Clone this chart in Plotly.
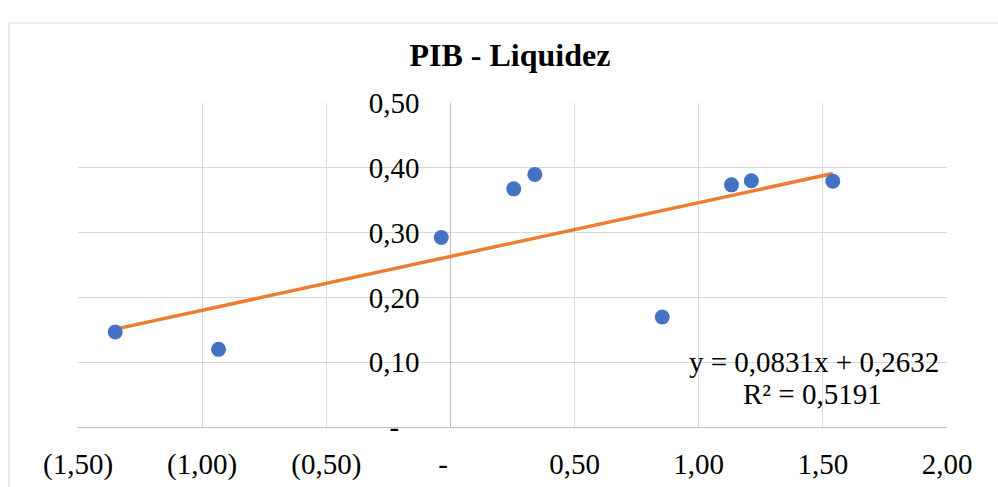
import plotly.graph_objects as go

# Data
x_vals = [-1.350, -0.934, -0.037, 0.255, 0.340, 0.853, 1.132, 1.212, 1.540]
y_vals = [0.1465, 0.1198, 0.2924, 0.3675, 0.3898, 0.1697, 0.3737, 0.3800, 0.3794]

slope = 0.0831
intercept = 0.2632
r2 = 0.5191

x_ticks = [-1.5, -1.0, -0.5, 0.0, 0.5, 1.0, 1.5, 2.0]
x_ticktext = ["(1,50)", "(1,00)", "(0,50)", "-\u2007", "0,50", "1,00", "1,50", "2,00"]
y_ticks = [0.0, 0.1, 0.2, 0.3, 0.4, 0.5]
y_ticktext = ["-\u2007\u2009", "0,10", "0,20", "0,30", "0,40", "0,50"]

FONT = "Liberation Serif, Times New Roman, serif"
GRID = "#d9d9d9"
AXIS = "#bfbfbf"
TS = 29

x_min, x_max = min(x_vals), max(x_vals)
trend_x = [x_min, x_max]
trend_y = [slope * v + intercept for v in trend_x]

fig = go.Figure()
fig.add_trace(go.Scatter(
    x=trend_x, y=trend_y, mode="lines",
    line=dict(color="#ED7D31", width=3.5),
    hoverinfo="skip", showlegend=False,
))
fig.add_trace(go.Scatter(
    x=x_vals, y=y_vals, mode="markers",
    marker=dict(color="#4472C4", size=15, line=dict(width=0)),
    showlegend=False,
))

fmt = lambda v: f"{v:.4f}".replace(".", ",")
fig.add_annotation(
    xref="paper", yref="paper", x=(814 - 78) / 869, y=(427 - 362) / 324,
    xanchor="center", yanchor="middle", align="center",
    text=f"y = {fmt(slope)}x + {fmt(intercept)}",
    showarrow=False, font=dict(family=FONT, size=TS, color="#000000"),
)
fig.add_annotation(
    xref="paper", yref="paper", x=(812 - 78) / 869, y=(427 - 394) / 324,
    xanchor="center", yanchor="middle", align="center",
    text=f"R² = {fmt(r2)}",
    showarrow=False, font=dict(family=FONT, size=TS, color="#000000"),
)

# outer chart border
fig.add_shape(
    type="rect", xref="paper", yref="paper",
    x0=-0.0794, y0=-0.6, x1=1.2, y1=1.2469,
    line=dict(color=GRID, width=1), fillcolor="rgba(0,0,0,0)", layer="below",
)

fig.update_layout(
    width=998, height=487,
    margin=dict(l=78, r=51, t=103, b=60, autoexpand=False),
    paper_bgcolor="white", plot_bgcolor="white",
    title=dict(
        text="<b>PIB - Liquidez</b>",
        x=0.511, xanchor="center", xref="container",
        y=1 - 55 / 487, yanchor="middle", yref="container",
        font=dict(family=FONT, size=32, color="#000000"),
        automargin=False,
    ),
    font=dict(family=FONT, size=TS, color="#000000"),
    xaxis=dict(
        range=[-1.5, 2.0], tickvals=x_ticks, ticktext=x_ticktext,
        showgrid=True, gridcolor=GRID, gridwidth=1,
        zeroline=True, zerolinecolor=AXIS, zerolinewidth=1,
        showline=True, linecolor=AXIS, linewidth=1,
        ticks="", ticklabelstandoff=11, automargin=False,
        tickfont=dict(family=FONT, size=TS, color="#000000"),
        fixedrange=True,
    ),
    yaxis=dict(
        range=[0, 0.5], tickvals=y_ticks, ticktext=y_ticktext,
        showgrid=True, gridcolor=GRID, gridwidth=1,
        zeroline=False, showline=False,
        anchor="free", position=(0 - (-1.5)) / 3.5,
        ticks="", ticklabelstandoff=31, automargin=False,
        tickfont=dict(family=FONT, size=TS, color="#000000"),
        fixedrange=True,
    ),
)

fig.write_html("out.html")
